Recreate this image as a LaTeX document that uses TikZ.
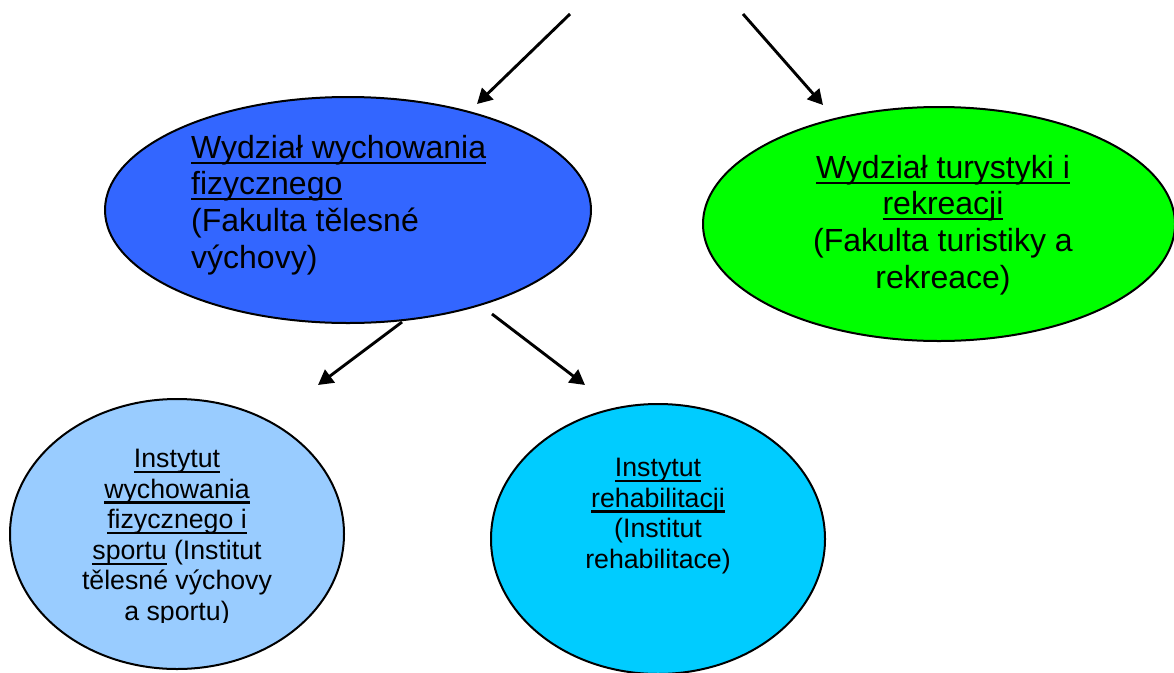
\documentclass[tikz,border=0pt]{standalone}
\usepackage{fontspec}
\setmainfont{Liberation Sans}
\usetikzlibrary{shapes.geometric,arrows.meta}
\definecolor{cfwf}{HTML}{3366FF}
\definecolor{cftr}{HTML}{00FF00}
\definecolor{ciwf}{HTML}{99CCFF}
\definecolor{cir}{HTML}{00CCFF}
\newcommand\myul[1]{\setbox0=\hbox{#1}\rlap{\vrule width\wd0 height -3.2pt depth 5.4pt}\box0\relax}
\begin{document}
\begin{tikzpicture}[x=1pt,y=-1pt,
  oval/.style={ellipse, draw=black, line width=2pt, inner sep=0pt},
  bigtext/.style={font=\fontsize{32}{36.6}\selectfont, inner sep=0pt},
  smalltext/.style={font=\fontsize{26.7}{30.6}\selectfont, inner sep=0pt, align=center, anchor=north},
  conn/.style={line width=2.9pt, -{Triangle[length=15pt,width=16pt]}}]
\clip (0,0) rectangle (1174,672);
\fill[white] (0,0) rectangle (1174,672);
% ellipses
\node[oval, fill=cfwf, minimum width=486pt, minimum height=226pt] (fwf) at (348,210) {};
\node[oval, fill=cftr, minimum width=472pt, minimum height=234pt] (ftr) at (939,224) {};
\node[oval, fill=ciwf, minimum width=334pt, minimum height=270pt] (iwf) at (177,534) {};
\node[oval, fill=cir, minimum width=334pt, minimum height=270pt] (ir) at (658,539) {};
% texts
\node[bigtext, align=left, anchor=north west] (tfwf) at (191,135)
  {\myul{Wydział wychowania}\\\myul{fizycznego}\\(Fakulta tělesné\\výchovy)};
\node[bigtext, align=center, anchor=north] (tftr) at (943,155)
  {\myul{Wydział turystyki i}\\\myul{rekreacji}\\(Fakulta turistiky a\\rekreace)};
\begin{scope}
\clip (0,380) rectangle (400,622);
\node[smalltext] (tiwf) at (177,449)
  {\myul{Instytut}\\\myul{wychowania}\\\myul{fizycznego i}\\\myul{sportu} (Institut\\tělesné výchovy\\a sportu)};
\end{scope}
\node[smalltext] (tir) at (658,458)
  {\myul{Instytut}\\\myul{rehabilitacji}\\(Institut\\rehabilitace)};
% connectors
\coordinate (a1s) at (570,14); \coordinate (a1e) at (477,104);
\coordinate (a2s) at (743,14); \coordinate (a2e) at (823,105);
\coordinate (a3s) at (402,322); \coordinate (a3e) at (318,385);
\coordinate (a4s) at (492,314); \coordinate (a4e) at (585,385);
\draw[conn] (a1s) -- (a1e);
\draw[conn] (a2s) -- (a2e);
\draw[conn] (a3s) -- (a3e);
\draw[conn] (a4s) -- (a4e);
\end{tikzpicture}
\end{document}
